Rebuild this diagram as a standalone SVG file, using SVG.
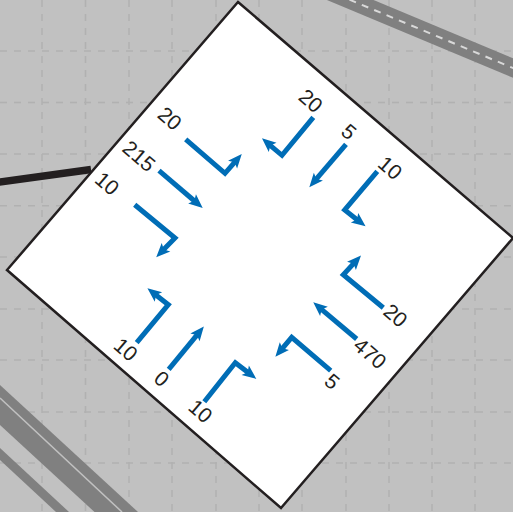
<svg xmlns="http://www.w3.org/2000/svg" width="513" height="512" viewBox="0 0 513 512">
<style>
.grid{stroke:#b1b1b1;stroke-width:1.5;stroke-dasharray:7 7;fill:none}
.road{fill:#808080}
.arrow{fill:none;stroke:#006db6;stroke-width:5;stroke-linejoin:miter;stroke-miterlimit:10;marker-end:url(#head)}
text{font-family:"Liberation Sans",Arial,sans-serif;font-size:21px;fill:#231f20;text-anchor:middle;dominant-baseline:central}
</style>
<defs>
<marker id="head" markerUnits="userSpaceOnUse" markerWidth="16" markerHeight="14" refX="4" refY="7" orient="auto" overflow="visible">
<path d="M0,1 L14,7 L0,13 L3,7 Z" fill="#006db6"/>
</marker>
</defs>
<rect width="513" height="512" fill="#c1c1c1"/>
<g id="grid">
<path class="grid" d="M42 0V512M85.5 0V512M129 0V512M172 0V512M216 0V512M259 0V512M302 0V512M346 0V512M389 0V512M432 0V512M475 0V512"/>
<path class="grid" d="M0 51H513M0 102.6H513M0 154H513M0 205.8H513M0 257H513M0 309H513M0 360H513M0 412H513M0 463H513"/>
</g>
<g id="roads">
<path d="M300,-21 L540,79.3" fill="none" stroke="#808080" stroke-width="18"/>
<path d="M300,-21 L540,79.3" fill="none" stroke="#d9d9d9" stroke-width="2" stroke-dasharray="7 6.4"/>
<path class="road" d="M0,385 L138,512 H94.5 L0,425 Z"/>
<path d="M0,398 L122,512" fill="none" stroke="#c1c1c1" stroke-width="1.5"/>
<path class="road" d="M0,448 L69,512 H56 L0,460 Z"/>
<path d="M-10,183.4 L91,169.5" fill="none" stroke="#231f20" stroke-width="7.5"/>
</g>
<polygon id="intersection" points="238,2 513,238 281,508 7,270" fill="#fff" stroke="#231f20" stroke-width="2.5"/>
<g id="connectors">
<path class="arrow" d="M185.7,139.3 L225,173.3 L235.2,161.6"/>
<path class="arrow" d="M159,170.7 L195.1,201.5"/>
<path class="arrow" d="M134.7,204.7 L175,238 L163.2,250.1"/>
<path class="arrow" d="M313.3,117.3 L282,155.3 L269.6,144.8"/>
<path class="arrow" d="M346,144.3 L315.8,179.7"/>
<path class="arrow" d="M377.3,171.3 L344.7,210 L357.7,220.2"/>
<path class="arrow" d="M136.7,342.7 L168.3,304.7 L155.3,294.5"/>
<path class="arrow" d="M168.7,369.3 L197.5,334.3"/>
<path class="arrow" d="M204.3,401.7 L235.3,362.7 L248.4,372.8"/>
<path class="arrow" d="M383.3,307.7 L343.3,274.7 L354.2,262.9"/>
<path class="arrow" d="M356.7,339 L320.9,308.8"/>
<path class="arrow" d="M330.7,370.7 L291.7,337.3 L281.8,349.1"/>
</g>
<g id="labels">
<text transform="translate(170,118.3) rotate(40.6)">20</text>
<text transform="translate(139.3,156) rotate(40.6)">215</text>
<text transform="translate(107.3,183.3) rotate(40.6)">10</text>
<text transform="translate(311,100.7) rotate(40.6)">20</text>
<text transform="translate(349,131.7) rotate(40.6)">5</text>
<text transform="translate(390.3,167.7) rotate(40.6)">10</text>
<text transform="translate(126,349.3) rotate(40.6)">10</text>
<text transform="translate(161.7,378.7) rotate(40.6)">0</text>
<text transform="translate(200.7,411) rotate(40.6)">10</text>
<text transform="translate(395.7,315.3) rotate(40.6)">20</text>
<text transform="translate(370.3,353.3) rotate(40.6)">470</text>
<text transform="translate(332.3,381.3) rotate(40.6)">5</text>
</g>
</svg>
